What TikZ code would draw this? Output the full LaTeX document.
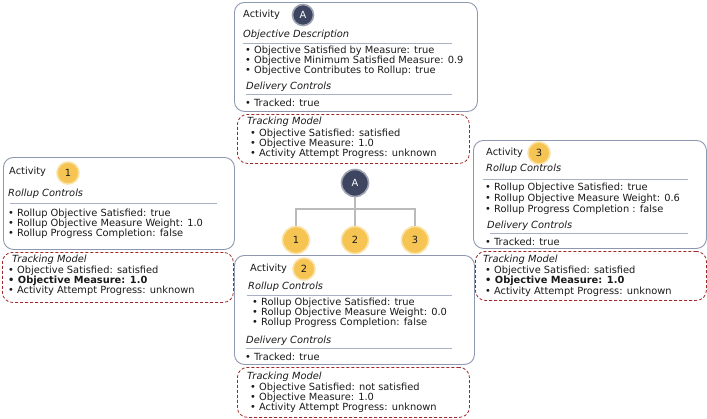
\documentclass[tikz,border=0pt]{standalone}
\usepackage{fontspec}
\setmainfont{DejaVu Sans}
\definecolor{boxc}{HTML}{8E98B0}
\definecolor{sepc}{HTML}{A8B0C4}
\definecolor{trackc}{HTML}{A02828}
\definecolor{darkc}{HTML}{3D4560}
\definecolor{darkring}{HTML}{9EA3B2}
\definecolor{yelc}{HTML}{F6C452}
\definecolor{yelring}{HTML}{FBE2A6}
\definecolor{treec}{HTML}{BBBBBB}
\definecolor{txtc}{HTML}{1A1A1A}
\newcommand\myfs[1]{\fontsize{9.85}{#1}\selectfont}
\begin{document}
\begin{tikzpicture}[x=1pt,y=-1pt,
  box/.style={draw=boxc, line width=0.9pt, rounded corners=10pt, fill=white, anchor=north west, inner sep=0pt},
  track/.style={draw=trackc, line width=0.8pt, dash pattern=on 3pt off 2pt, rounded corners=10pt, anchor=north west, inner sep=0pt},
  sep/.style={draw=sepc, line width=1pt},
  txt/.style={anchor=west, inner sep=0pt, text=txtc, font=\myfs{10}},
  hdr/.style={txt, font=\myfs{10}\itshape},
  lines/.style={txt, align=left},
  dark/.style={circle, fill=darkc, draw=darkring, line width=1.6pt, text=white, minimum size=#1, inner sep=0pt, font=\myfs{10}},
  yel/.style={circle, fill=yelc, draw=yelring, line width=1.6pt, text=txtc, minimum size=#1, inner sep=0pt, font=\myfs{10}},
  tree/.style={draw=treec, line width=1.1pt}]
\useasboundingbox (0,0) rectangle (707,418);

% ---------- top box A ----------
\node[box, minimum width=243pt, minimum height=109pt] (boxA) at (234,2) {};
\node[txt] (actA) at (243,15) {Activity};
\node[dark=21pt] (cA) at (303,15) {A};
\node[hdr] (hA1) at (243,35) {Objective Description};
\draw[sep] (243,43) -- (452,43);
\node[lines] (lA1) at (245,61) {• Objective Satisfied by Measure: true\\• Objective Minimum Satisfied Measure: 0.9\\• Objective Contributes to Rollup: true};
\node[hdr] (hA2) at (246,87) {Delivery Controls};
\draw[sep] (246,94) -- (452,94);
\node[txt] (lA2) at (245,103) {• Tracked: true};

\node[track, minimum width=232pt, minimum height=49pt] (trA) at (237,114) {};
\node[hdr] (thA) at (247,122) {Tracking Model};
\node[lines] (tlA) at (250,144) {• Objective Satisfied: satisfied\\• Objective Measure: 1.0\\• Activity Attempt Progress: unknown};

% ---------- left box 1 ----------
\node[box, minimum width=231pt, minimum height=92pt] (box1) at (3,157) {};
\node[txt] (act1) at (9,172) {Activity};
\node[yel=22pt] (c1) at (68,173) {1};
\node[hdr] (h11) at (8,194) {Rollup Controls};
\draw[sep] (10,203) -- (217,203);
\node[lines] (l11) at (8,224) {• Rollup Objective Satisfied: true\\• Rollup Objective Measure Weight: 1.0\\• Rollup Progress Completion: false};

\node[track, minimum width=231pt, minimum height=50pt] (tr1) at (2,252) {};
\node[hdr] (th1) at (12,260) {Tracking Model};
\node[lines] (tl1) at (8,281) {• Objective Satisfied: satisfied\\\textbf{• Objective Measure: 1.0}\\• Activity Attempt Progress: unknown};

% ---------- right box 3 ----------
\node[box, minimum width=233pt, minimum height=108pt] (box3) at (473,140) {};
\node[txt] (act3) at (486,153) {Activity};
\node[yel=22pt] (c3) at (539,153) {3};
\node[hdr] (h31) at (486,169) {Rollup Controls};
\draw[sep] (483,179) -- (688,179);
\node[lines, font=\myfs{11}] (l31) at (485,199) {• Rollup Objective Satisfied: true\\• Rollup Objective Measure Weight: 0.6\\• Rollup Progress Completion : false};
\node[hdr] (h32) at (487,226) {Delivery Controls};
\draw[sep] (490,233) -- (688,233);
\node[txt] (l32) at (485,242) {• Tracked: true};

\node[track, minimum width=231pt, minimum height=49pt] (tr3) at (475,251) {};
\node[hdr] (th3) at (483,260) {Tracking Model};
\node[lines, font=\myfs{10.5}] (tl3) at (485,281) {• Objective Satisfied: satisfied\\\textbf{• Objective Measure: 1.0}\\• Activity Attempt Progress: unknown};

% ---------- bottom box 2 ----------
\node[box, minimum width=240pt, minimum height=109pt] (box2) at (234,255) {};
\node[txt] (act2) at (250,269) {Activity};
\node[yel=22pt] (c2) at (304,269) {2};
\node[hdr] (h21) at (248,287) {Rollup Controls};
\draw[sep] (247,295) -- (452,295);
\node[lines] (l21) at (252,313) {• Rollup Objective Satisfied: true\\• Rollup Objective Measure Weight: 0.0\\• Rollup Progress Completion: false};
\node[hdr] (h22) at (246,341) {Delivery Controls};
\draw[sep] (246,348) -- (452,348);
\node[txt] (l22) at (245,357) {• Tracked: true};

\node[track, minimum width=232pt, minimum height=50pt] (tr2) at (237,367) {};
\node[hdr] (th2) at (247,377) {Tracking Model};
\node[lines] (tl2) at (250,398) {• Objective Satisfied: not satisfied\\• Objective Measure: 1.0\\• Activity Attempt Progress: unknown};

% ---------- tree ----------
\coordinate (j) at (355,209);
\node[dark=27pt] (tA) at (355,183) {A};
\node[yel=27pt] (t1) at (296,240) {1};
\node[yel=27pt] (t2) at (355,240) {2};
\node[yel=27pt] (t3) at (415,240) {3};
\draw[tree] (tA.south) -- (t2.north);
\draw[tree] (t1.north) |- (j) -| (t3.north);
\end{tikzpicture}
\end{document}
